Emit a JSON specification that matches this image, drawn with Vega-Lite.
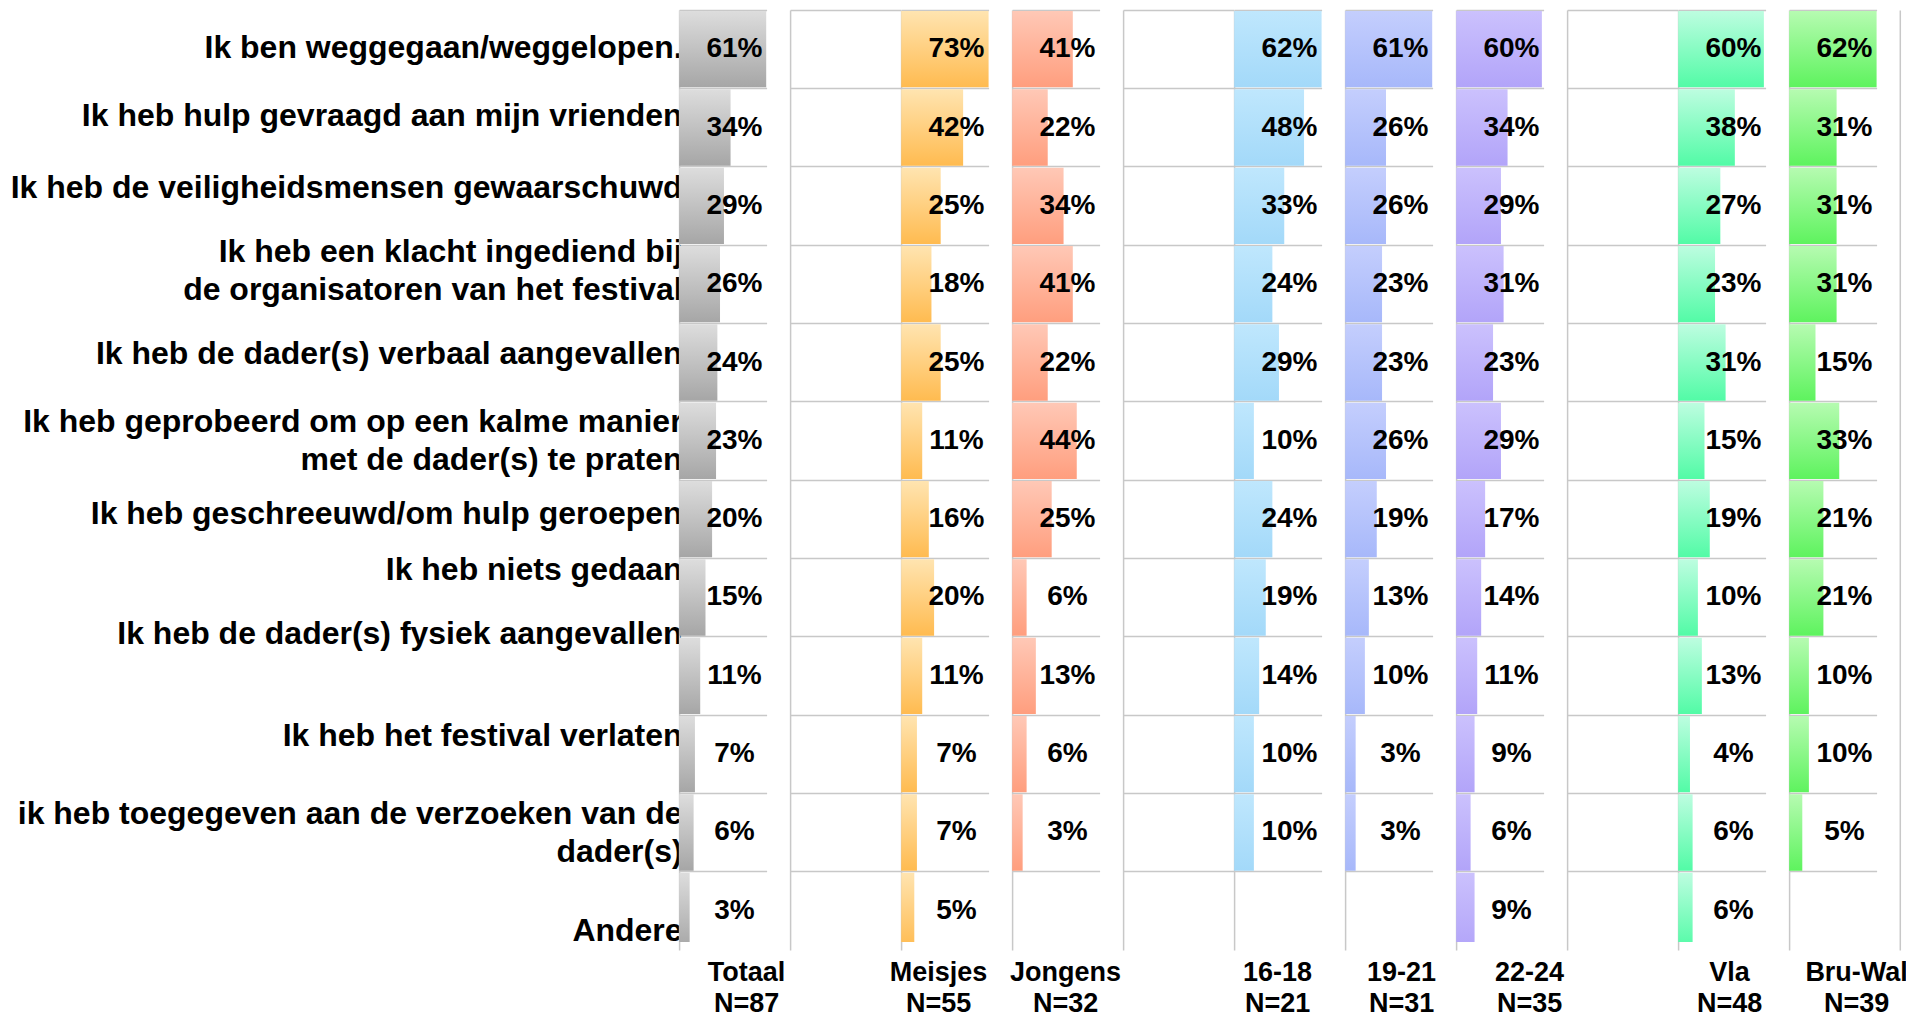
{
  "$schema": "https://vega.github.io/schema/vega-lite/v6.json",
  "padding": {"left": 9.1, "top": 10, "right": 0, "bottom": 0},
  "background": "white",
  "data": {"values": [
    {"item": "Ik ben weggegaan/weggelopen.", "Totaal": 0.61, "Meisjes": 0.73, "Jongens": 0.41, "16-18": 0.62, "19-21": 0.61, "22-24": 0.60, "Vla": 0.60, "Bru-Wal": 0.62},
    {"item": "Ik heb hulp gevraagd aan mijn vrienden", "Totaal": 0.34, "Meisjes": 0.42, "Jongens": 0.22, "16-18": 0.48, "19-21": 0.26, "22-24": 0.34, "Vla": 0.38, "Bru-Wal": 0.31},
    {"item": "Ik heb de veiligheidsmensen gewaarschuwd", "Totaal": 0.29, "Meisjes": 0.25, "Jongens": 0.34, "16-18": 0.33, "19-21": 0.26, "22-24": 0.29, "Vla": 0.27, "Bru-Wal": 0.31},
    {"item": "Ik heb een klacht ingediend bij de organisatoren van het festival", "Totaal": 0.26, "Meisjes": 0.18, "Jongens": 0.41, "16-18": 0.24, "19-21": 0.23, "22-24": 0.31, "Vla": 0.23, "Bru-Wal": 0.31},
    {"item": "Ik heb de dader(s) verbaal aangevallen", "Totaal": 0.24, "Meisjes": 0.25, "Jongens": 0.22, "16-18": 0.29, "19-21": 0.23, "22-24": 0.23, "Vla": 0.31, "Bru-Wal": 0.15},
    {"item": "Ik heb geprobeerd om op een kalme manier met de dader(s) te praten", "Totaal": 0.23, "Meisjes": 0.11, "Jongens": 0.44, "16-18": 0.10, "19-21": 0.26, "22-24": 0.29, "Vla": 0.15, "Bru-Wal": 0.33},
    {"item": "Ik heb geschreeuwd/om hulp geroepen", "Totaal": 0.20, "Meisjes": 0.16, "Jongens": 0.25, "16-18": 0.24, "19-21": 0.19, "22-24": 0.17, "Vla": 0.19, "Bru-Wal": 0.21},
    {"item": "Ik heb niets gedaan", "Totaal": 0.15, "Meisjes": 0.20, "Jongens": 0.06, "16-18": 0.19, "19-21": 0.13, "22-24": 0.14, "Vla": 0.10, "Bru-Wal": 0.21},
    {"item": "Ik heb de dader(s) fysiek aangevallen", "Totaal": 0.11, "Meisjes": 0.11, "Jongens": 0.13, "16-18": 0.14, "19-21": 0.10, "22-24": 0.11, "Vla": 0.13, "Bru-Wal": 0.10},
    {"item": "Ik heb het festival verlaten", "Totaal": 0.07, "Meisjes": 0.07, "Jongens": 0.06, "16-18": 0.10, "19-21": 0.03, "22-24": 0.09, "Vla": 0.04, "Bru-Wal": 0.10},
    {"item": "ik heb toegegeven aan de verzoeken van de dader(s)", "Totaal": 0.06, "Meisjes": 0.07, "Jongens": 0.03, "16-18": 0.10, "19-21": 0.03, "22-24": 0.06, "Vla": 0.06, "Bru-Wal": 0.05},
    {"item": "Andere", "Totaal": 0.03, "Meisjes": 0.05, "22-24": 0.09, "Vla": 0.06}
  ]},
  "transform": [{"fold": ["Totaal", "Meisjes", "Jongens", "16-18", "19-21", "22-24", "Vla", "Bru-Wal"], "as": ["group", "value"]}],
  "spacing": 0,
  "bounds": "flush",
  "hconcat": [
    {
      "width": 110.7, "height": 932,
      "transform": [{"filter": "datum.group == 'Totaal' && isValid(datum.value)"}],
      "encoding": {"y": {"field": "item", "type": "nominal", "title": null,
        "scale": {"domain": ["Ik ben weggegaan/weggelopen.", "Ik heb hulp gevraagd aan mijn vrienden", "Ik heb de veiligheidsmensen gewaarschuwd", "Ik heb een klacht ingediend bij de organisatoren van het festival", "Ik heb de dader(s) verbaal aangevallen", "Ik heb geprobeerd om op een kalme manier met de dader(s) te praten", "Ik heb geschreeuwd/om hulp geroepen", "Ik heb niets gedaan", "Ik heb de dader(s) fysiek aangevallen", "Ik heb het festival verlaten", "ik heb toegegeven aan de verzoeken van de dader(s)", "Andere"], "paddingInner": 0, "paddingOuter": 0, "range": [0, 940]},
        "axis": {
          "labels": true, "labelFontSize": 32, "labelFontWeight": "bold", "labelLimit": 0, "labelPadding": -3,
          "labelLineHeight": 38, "labelAlign": "right", "labelBaseline": "middle", "labelColor": "black",
          "labelExpr": "datum.label == 'Ik heb een klacht ingediend bij de organisatoren van het festival' ? ['Ik heb een klacht ingediend bij', 'de organisatoren van het festival'] : datum.label == 'Ik heb geprobeerd om op een kalme manier met de dader(s) te praten' ? ['Ik heb geprobeerd om op een kalme manier', 'met de dader(s) te praten'] : datum.label == 'ik heb toegegeven aan de verzoeken van de dader(s)' ? ['ik heb toegegeven aan de verzoeken van de', 'dader(s)'] : datum.label",
          "labelOffset": {"condition": [
            {"test": "datum.value == 'Ik ben weggegaan/weggelopen.'", "value": -1},
            {"test": "datum.value == 'Ik heb hulp gevraagd aan mijn vrienden'", "value": -12},
            {"test": "datum.value == 'Ik heb de veiligheidsmensen gewaarschuwd'", "value": -18},
            {"test": "datum.value == 'Ik heb een klacht ingediend bij de organisatoren van het festival'", "value": -32},
            {"test": "datum.value == 'Ik heb de dader(s) verbaal aangevallen'", "value": -9},
            {"test": "datum.value == 'Ik heb geprobeerd om op een kalme manier met de dader(s) te praten'", "value": -19},
            {"test": "datum.value == 'Ik heb geschreeuwd/om hulp geroepen'", "value": -5},
            {"test": "datum.value == 'Ik heb niets gedaan'", "value": -27},
            {"test": "datum.value == 'Ik heb de dader(s) fysiek aangevallen'", "value": -42},
            {"test": "datum.value == 'Ik heb het festival verlaten'", "value": -18},
            {"test": "datum.value == 'ik heb toegegeven aan de verzoeken van de dader(s)'", "value": -18},
            {"test": "datum.value == 'Andere'", "value": 20}
          ], "value": 0}
        }}},
      "layer": [
        {"mark": {"type": "bar", "clip": true, "height": {"band": 0.975}, "fill": {"gradient": "linear", "x1": 0, "y1": 0, "x2": 0, "y2": 1, "stops": [{"offset": 0, "color": "#dddddd"}, {"offset": 1, "color": "#a6a6a6"}]}},
         "encoding": {"x": {"field": "value", "type": "quantitative", "scale": {"domain": [-0.05, 0.613], "range": [0, 87.5], "clamp": true}, "axis": {"title": ["Totaal", "N=87"], "titleX": 67}}, "x2": {"datum": -0.05}}},
        {"mark": {"type": "text", "fontSize": 28, "fontWeight": "bold", "color": "black"}, "encoding": {"text": {"field": "value", "type": "quantitative", "format": ".0%"}}}
      ]
    },
    {
      "width": 110.7, "height": 932,
      "transform": [{"filter": "datum.group == 'Totaal'"}],
      "mark": {"type": "tick", "opacity": 0},
      "encoding": {"y": {"field": "item", "type": "nominal", "title": null, "scale": {"domain": ["Ik ben weggegaan/weggelopen.", "Ik heb hulp gevraagd aan mijn vrienden", "Ik heb de veiligheidsmensen gewaarschuwd", "Ik heb een klacht ingediend bij de organisatoren van het festival", "Ik heb de dader(s) verbaal aangevallen", "Ik heb geprobeerd om op een kalme manier met de dader(s) te praten", "Ik heb geschreeuwd/om hulp geroepen", "Ik heb niets gedaan", "Ik heb de dader(s) fysiek aangevallen", "Ik heb het festival verlaten", "ik heb toegegeven aan de verzoeken van de dader(s)", "Andere"], "paddingInner": 0, "paddingOuter": 0, "range": [0, 940]}}}
    },
    {
      "width": 110.7, "height": 932,
      "transform": [{"filter": "datum.group == 'Meisjes' && isValid(datum.value)"}],
      "encoding": {"y": {"field": "item", "type": "nominal", "title": null, "scale": {"domain": ["Ik ben weggegaan/weggelopen.", "Ik heb hulp gevraagd aan mijn vrienden", "Ik heb de veiligheidsmensen gewaarschuwd", "Ik heb een klacht ingediend bij de organisatoren van het festival", "Ik heb de dader(s) verbaal aangevallen", "Ik heb geprobeerd om op een kalme manier met de dader(s) te praten", "Ik heb geschreeuwd/om hulp geroepen", "Ik heb niets gedaan", "Ik heb de dader(s) fysiek aangevallen", "Ik heb het festival verlaten", "ik heb toegegeven aan de verzoeken van de dader(s)", "Andere"], "paddingInner": 0, "paddingOuter": 0, "range": [0, 940]}}},
      "layer": [
        {"mark": {"type": "bar", "clip": true, "height": {"band": 0.975}, "fill": {"gradient": "linear", "x1": 0, "y1": 0, "x2": 0, "y2": 1, "stops": [{"offset": 0, "color": "#ffe4b0"}, {"offset": 1, "color": "#ffbb50"}]}},
         "encoding": {"x": {"field": "value", "type": "quantitative", "scale": {"domain": [-0.05, 0.613], "range": [0, 87.5], "clamp": true}, "axis": {"title": ["Meisjes", "N=55"], "titleX": 37}}, "x2": {"datum": -0.05}}},
        {"mark": {"type": "text", "fontSize": 28, "fontWeight": "bold", "color": "black"}, "encoding": {"text": {"field": "value", "type": "quantitative", "format": ".0%"}}}
      ]
    },
    {
      "width": 110.7, "height": 932,
      "transform": [{"filter": "datum.group == 'Jongens' && isValid(datum.value)"}],
      "encoding": {"y": {"field": "item", "type": "nominal", "title": null, "scale": {"domain": ["Ik ben weggegaan/weggelopen.", "Ik heb hulp gevraagd aan mijn vrienden", "Ik heb de veiligheidsmensen gewaarschuwd", "Ik heb een klacht ingediend bij de organisatoren van het festival", "Ik heb de dader(s) verbaal aangevallen", "Ik heb geprobeerd om op een kalme manier met de dader(s) te praten", "Ik heb geschreeuwd/om hulp geroepen", "Ik heb niets gedaan", "Ik heb de dader(s) fysiek aangevallen", "Ik heb het festival verlaten", "ik heb toegegeven aan de verzoeken van de dader(s)", "Andere"], "paddingInner": 0, "paddingOuter": 0, "range": [0, 940]}}},
      "layer": [
        {"mark": {"type": "bar", "clip": true, "height": {"band": 0.975}, "fill": {"gradient": "linear", "x1": 0, "y1": 0, "x2": 0, "y2": 1, "stops": [{"offset": 0, "color": "#ffc8b6"}, {"offset": 1, "color": "#ff9e7e"}]}},
         "encoding": {"x": {"field": "value", "type": "quantitative", "scale": {"domain": [-0.05, 0.613], "range": [0, 87.5], "clamp": true}, "axis": {"title": ["Jongens", "N=32"], "titleX": 53}}, "x2": {"datum": -0.05}}},
        {"mark": {"type": "text", "fontSize": 28, "fontWeight": "bold", "color": "black"}, "encoding": {"text": {"field": "value", "type": "quantitative", "format": ".0%"}}}
      ]
    },
    {
      "width": 110.7, "height": 932,
      "transform": [{"filter": "datum.group == 'Totaal'"}],
      "mark": {"type": "tick", "opacity": 0},
      "encoding": {"y": {"field": "item", "type": "nominal", "title": null, "scale": {"domain": ["Ik ben weggegaan/weggelopen.", "Ik heb hulp gevraagd aan mijn vrienden", "Ik heb de veiligheidsmensen gewaarschuwd", "Ik heb een klacht ingediend bij de organisatoren van het festival", "Ik heb de dader(s) verbaal aangevallen", "Ik heb geprobeerd om op een kalme manier met de dader(s) te praten", "Ik heb geschreeuwd/om hulp geroepen", "Ik heb niets gedaan", "Ik heb de dader(s) fysiek aangevallen", "Ik heb het festival verlaten", "ik heb toegegeven aan de verzoeken van de dader(s)", "Andere"], "paddingInner": 0, "paddingOuter": 0, "range": [0, 940]}}}
    },
    {
      "width": 110.7, "height": 932,
      "transform": [{"filter": "datum.group == '16-18' && isValid(datum.value)"}],
      "encoding": {"y": {"field": "item", "type": "nominal", "title": null, "scale": {"domain": ["Ik ben weggegaan/weggelopen.", "Ik heb hulp gevraagd aan mijn vrienden", "Ik heb de veiligheidsmensen gewaarschuwd", "Ik heb een klacht ingediend bij de organisatoren van het festival", "Ik heb de dader(s) verbaal aangevallen", "Ik heb geprobeerd om op een kalme manier met de dader(s) te praten", "Ik heb geschreeuwd/om hulp geroepen", "Ik heb niets gedaan", "Ik heb de dader(s) fysiek aangevallen", "Ik heb het festival verlaten", "ik heb toegegeven aan de verzoeken van de dader(s)", "Andere"], "paddingInner": 0, "paddingOuter": 0, "range": [0, 940]}}},
      "layer": [
        {"mark": {"type": "bar", "clip": true, "height": {"band": 0.975}, "fill": {"gradient": "linear", "x1": 0, "y1": 0, "x2": 0, "y2": 1, "stops": [{"offset": 0, "color": "#bfe7fd"}, {"offset": 1, "color": "#a3d9f9"}]}},
         "encoding": {"x": {"field": "value", "type": "quantitative", "scale": {"domain": [-0.05, 0.613], "range": [0, 87.5], "clamp": true}, "axis": {"title": ["16-18", "N=21"], "titleX": 43}}, "x2": {"datum": -0.05}}},
        {"mark": {"type": "text", "fontSize": 28, "fontWeight": "bold", "color": "black"}, "encoding": {"text": {"field": "value", "type": "quantitative", "format": ".0%"}}}
      ]
    },
    {
      "width": 110.7, "height": 932,
      "transform": [{"filter": "datum.group == '19-21' && isValid(datum.value)"}],
      "encoding": {"y": {"field": "item", "type": "nominal", "title": null, "scale": {"domain": ["Ik ben weggegaan/weggelopen.", "Ik heb hulp gevraagd aan mijn vrienden", "Ik heb de veiligheidsmensen gewaarschuwd", "Ik heb een klacht ingediend bij de organisatoren van het festival", "Ik heb de dader(s) verbaal aangevallen", "Ik heb geprobeerd om op een kalme manier met de dader(s) te praten", "Ik heb geschreeuwd/om hulp geroepen", "Ik heb niets gedaan", "Ik heb de dader(s) fysiek aangevallen", "Ik heb het festival verlaten", "ik heb toegegeven aan de verzoeken van de dader(s)", "Andere"], "paddingInner": 0, "paddingOuter": 0, "range": [0, 940]}}},
      "layer": [
        {"mark": {"type": "bar", "clip": true, "height": {"band": 0.975}, "fill": {"gradient": "linear", "x1": 0, "y1": 0, "x2": 0, "y2": 1, "stops": [{"offset": 0, "color": "#c4cefd"}, {"offset": 1, "color": "#a7b8fa"}]}},
         "encoding": {"x": {"field": "value", "type": "quantitative", "scale": {"domain": [-0.05, 0.613], "range": [0, 87.5], "clamp": true}, "axis": {"title": ["19-21", "N=31"], "titleX": 56}}, "x2": {"datum": -0.05}}},
        {"mark": {"type": "text", "fontSize": 28, "fontWeight": "bold", "color": "black"}, "encoding": {"text": {"field": "value", "type": "quantitative", "format": ".0%"}}}
      ]
    },
    {
      "width": 110.7, "height": 932,
      "transform": [{"filter": "datum.group == '22-24' && isValid(datum.value)"}],
      "encoding": {"y": {"field": "item", "type": "nominal", "title": null, "scale": {"domain": ["Ik ben weggegaan/weggelopen.", "Ik heb hulp gevraagd aan mijn vrienden", "Ik heb de veiligheidsmensen gewaarschuwd", "Ik heb een klacht ingediend bij de organisatoren van het festival", "Ik heb de dader(s) verbaal aangevallen", "Ik heb geprobeerd om op een kalme manier met de dader(s) te praten", "Ik heb geschreeuwd/om hulp geroepen", "Ik heb niets gedaan", "Ik heb de dader(s) fysiek aangevallen", "Ik heb het festival verlaten", "ik heb toegegeven aan de verzoeken van de dader(s)", "Andere"], "paddingInner": 0, "paddingOuter": 0, "range": [0, 940]}}},
      "layer": [
        {"mark": {"type": "bar", "clip": true, "height": {"band": 0.975}, "fill": {"gradient": "linear", "x1": 0, "y1": 0, "x2": 0, "y2": 1, "stops": [{"offset": 0, "color": "#cbc1fd"}, {"offset": 1, "color": "#b2a4f9"}]}},
         "encoding": {"x": {"field": "value", "type": "quantitative", "scale": {"domain": [-0.05, 0.613], "range": [0, 87.5], "clamp": true}, "axis": {"title": ["22-24", "N=35"], "titleX": 73}}, "x2": {"datum": -0.05}}},
        {"mark": {"type": "text", "fontSize": 28, "fontWeight": "bold", "color": "black"}, "encoding": {"text": {"field": "value", "type": "quantitative", "format": ".0%"}}}
      ]
    },
    {
      "width": 110.7, "height": 932,
      "transform": [{"filter": "datum.group == 'Totaal'"}],
      "mark": {"type": "tick", "opacity": 0},
      "encoding": {"y": {"field": "item", "type": "nominal", "title": null, "scale": {"domain": ["Ik ben weggegaan/weggelopen.", "Ik heb hulp gevraagd aan mijn vrienden", "Ik heb de veiligheidsmensen gewaarschuwd", "Ik heb een klacht ingediend bij de organisatoren van het festival", "Ik heb de dader(s) verbaal aangevallen", "Ik heb geprobeerd om op een kalme manier met de dader(s) te praten", "Ik heb geschreeuwd/om hulp geroepen", "Ik heb niets gedaan", "Ik heb de dader(s) fysiek aangevallen", "Ik heb het festival verlaten", "ik heb toegegeven aan de verzoeken van de dader(s)", "Andere"], "paddingInner": 0, "paddingOuter": 0, "range": [0, 940]}}}
    },
    {
      "width": 110.7, "height": 932,
      "transform": [{"filter": "datum.group == 'Vla' && isValid(datum.value)"}],
      "encoding": {"y": {"field": "item", "type": "nominal", "title": null, "scale": {"domain": ["Ik ben weggegaan/weggelopen.", "Ik heb hulp gevraagd aan mijn vrienden", "Ik heb de veiligheidsmensen gewaarschuwd", "Ik heb een klacht ingediend bij de organisatoren van het festival", "Ik heb de dader(s) verbaal aangevallen", "Ik heb geprobeerd om op een kalme manier met de dader(s) te praten", "Ik heb geschreeuwd/om hulp geroepen", "Ik heb niets gedaan", "Ik heb de dader(s) fysiek aangevallen", "Ik heb het festival verlaten", "ik heb toegegeven aan de verzoeken van de dader(s)", "Andere"], "paddingInner": 0, "paddingOuter": 0, "range": [0, 940]}}},
      "layer": [
        {"mark": {"type": "bar", "clip": true, "height": {"band": 0.975}, "fill": {"gradient": "linear", "x1": 0, "y1": 0, "x2": 0, "y2": 1, "stops": [{"offset": 0, "color": "#bdfde0"}, {"offset": 1, "color": "#52fba6"}]}},
         "encoding": {"x": {"field": "value", "type": "quantitative", "scale": {"domain": [-0.05, 0.613], "range": [0, 87.5], "clamp": true}, "axis": {"title": ["Vla", "N=48"], "titleX": 51}}, "x2": {"datum": -0.05}}},
        {"mark": {"type": "text", "fontSize": 28, "fontWeight": "bold", "color": "black"}, "encoding": {"text": {"field": "value", "type": "quantitative", "format": ".0%"}}}
      ]
    },
    {
      "width": 110.7, "height": 932,
      "transform": [{"filter": "datum.group == 'Bru-Wal' && isValid(datum.value)"}],
      "resolve": {"axis": {"y": "independent"}},
      "layer": [
        {"mark": {"type": "bar", "clip": true, "height": {"band": 0.975}, "fill": {"gradient": "linear", "x1": 0, "y1": 0, "x2": 0, "y2": 1, "stops": [{"offset": 0, "color": "#b6fbb1"}, {"offset": 1, "color": "#5ef35e"}]}},
         "encoding": {
           "y": {"field": "item", "type": "nominal", "title": null, "scale": {"domain": ["Ik ben weggegaan/weggelopen.", "Ik heb hulp gevraagd aan mijn vrienden", "Ik heb de veiligheidsmensen gewaarschuwd", "Ik heb een klacht ingediend bij de organisatoren van het festival", "Ik heb de dader(s) verbaal aangevallen", "Ik heb geprobeerd om op een kalme manier met de dader(s) te praten", "Ik heb geschreeuwd/om hulp geroepen", "Ik heb niets gedaan", "Ik heb de dader(s) fysiek aangevallen", "Ik heb het festival verlaten", "ik heb toegegeven aan de verzoeken van de dader(s)", "Andere"], "paddingInner": 0, "paddingOuter": 0, "range": [0, 940]}},
           "x": {"field": "value", "type": "quantitative", "scale": {"domain": [-0.05, 0.613], "range": [0, 87.5], "clamp": true}, "axis": {"title": ["Bru-Wal", "N=39"], "titleX": 67}}, "x2": {"datum": -0.05}}},
        {"mark": {"type": "text", "fontSize": 28, "fontWeight": "bold", "color": "black"},
         "encoding": {
           "y": {"field": "item", "type": "nominal", "axis": null},
           "text": {"field": "value", "type": "quantitative", "format": ".0%"}}},
        {"mark": {"type": "tick", "opacity": 0},
         "encoding": {"y": {"field": "item", "type": "nominal", "title": null, "axis": {"orient": "right", "grid": false, "domain": true, "labels": false}}}}
      ]
    }
  ],
  "config": {
    "font": "Liberation Sans",
    "view": {"stroke": null},
    "axis": {"domainColor": "#c8c8c8", "domainWidth": 1.5, "gridColor": "#c8c8c8", "gridWidth": 1.5, "ticks": false, "labelColor": "black", "titleColor": "black"},
    "axisX": {"labels": false, "domain": false, "grid": false, "titleFontSize": 27, "titleFontWeight": "bold", "titleLineHeight": 31, "titleBaseline": "alphabetic", "titleY": 39, "titleAlign": "center", "titleAnchor": "start"},
    "axisY": {"labels": false, "grid": true, "domain": true, "bandPosition": 0}
  }
}
